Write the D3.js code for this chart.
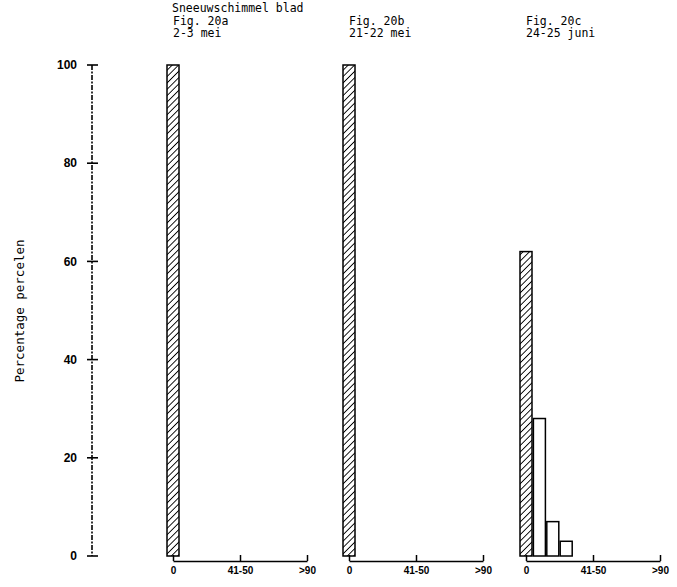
<!DOCTYPE html>
<html><head><meta charset="utf-8">
<script src="https://cdn.jsdelivr.net/npm/d3@7"></script>
<style>body{margin:0;background:#fff}svg{display:block}</style>
</head><body>
<svg id="c" width="677" height="587"></svg>
<script>
const categories = ["0","1-10","11-20","21-30","31-40","41-50","51-60","61-70","71-80","81-90",">90"];
const shownTicks = ["0","41-50",">90"];
const yTicks = [0,20,40,60,80,100];
const panelTitles = [["Fig. 20a","2-3 mei"],["Fig. 20b","21-22 mei"],["Fig. 20c","24-25 juni"]];
const mainTitle = "Sneeuwschimmel blad";
const yLabel = "Percentage percelen";
const valuesA = [100,0,0,0,0,0,0,0,0,0,0];
const valuesB = [100,0,0,0,0,0,0,0,0,0,0];
const valuesC = [62,28,7,3,0,0,0,0,0,0,0];
const panelValues = [valuesA, valuesB, valuesC];

const svg = d3.select("#c");
const mono = "'DejaVu Sans Mono', 'Liberation Mono', monospace";
const sans = "'Liberation Sans', Arial, sans-serif";

const defs = svg.append("defs");
const pat = defs.append("pattern").attr("id","hatch").attr("patternUnits","userSpaceOnUse")
  .attr("width",4.5).attr("height",4.5).attr("patternTransform","rotate(45)");
pat.append("rect").attr("width",4.5).attr("height",4.5).attr("fill","#fff");
pat.append("line").attr("x1",0).attr("y1",0).attr("x2",0).attr("y2",4.5)
  .attr("stroke","#000").attr("stroke-width",1.8);

const y = d3.scaleLinear().domain([0,100]).range([556,65]);

// Y axis
const yAxisX = 92;
const ya = svg.append("g");
ya.append("line").attr("x1",yAxisX).attr("x2",yAxisX).attr("y1",y(100)).attr("y2",y(0))
  .attr("stroke","#000").attr("stroke-width",1.6).attr("stroke-dasharray","5,1.5,2,1.5");
yTicks.forEach(t=>{
  ya.append("line").attr("x1",yAxisX-5).attr("x2",yAxisX+6).attr("y1",y(t)).attr("y2",y(t))
    .attr("stroke","#000").attr("stroke-width",1.6);
  ya.append("text").attr("x",yAxisX-15).attr("y",y(t)).attr("dy","0.35em")
    .attr("text-anchor","end").attr("font-family",sans).attr("font-weight","bold")
    .attr("font-size",12).text(t);
});
svg.append("text").attr("transform",`translate(24,311) rotate(-90)`)
  .attr("text-anchor","middle").attr("font-family",mono).attr("font-size",12.5).text(yLabel);

svg.append("text").attr("x",172).attr("y",12).attr("font-family",mono).attr("font-size",11.5).text(mainTitle);

const panelX0 = [173, 349, 526];
panelValues.forEach((vals,i)=>{
  const x = d3.scalePoint().domain(categories).range([0,134]);
  const g = svg.append("g").attr("transform",`translate(${panelX0[i]},0)`);
  // titles
  g.append("text").attr("x",0).attr("y",24.5).attr("font-family",mono).attr("font-size",11.5).text(panelTitles[i][0]);
  g.append("text").attr("x",0).attr("y",37).attr("font-family",mono).attr("font-size",11.5).text(panelTitles[i][1]);
  // bars
  const data = categories.map((c,k)=>({c,v:vals[k],k})).filter(d=>d.v>0);
  g.selectAll("rect.bar").data(data).enter().append("rect").attr("class","bar")
    .attr("x",d=>x(d.c)-6).attr("width",12)
    .attr("y",d=>y(d.v)).attr("height",d=>y(0)-y(d.v))
    .attr("fill",d=>d.k===0?"url(#hatch)":"#fff")
    .attr("stroke","#000").attr("stroke-width",1.5);
  // x axis
  const ax = d3.axisBottom(x).tickValues(shownTicks).tickSize(-6).tickPadding(6).tickSizeOuter(0);
  const axg = g.append("g").attr("transform","translate(0,561)").call(ax);
  axg.select(".domain").attr("stroke","#000").attr("stroke-width",1.5);
  axg.selectAll(".tick line").attr("stroke","#000").attr("stroke-width",1.5);
  axg.selectAll(".tick text").attr("font-family",sans).attr("font-weight","bold")
    .attr("font-size",10).attr("fill","#000");
});
</script>
</body></html>
